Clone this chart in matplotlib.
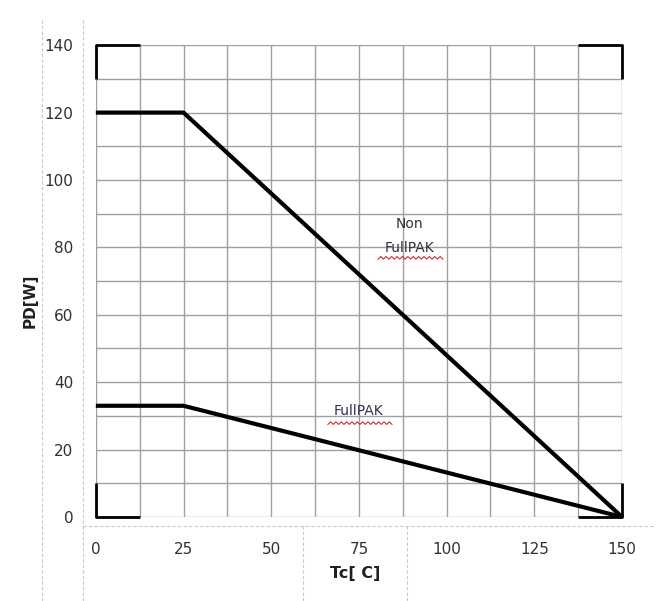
import numpy as np
import matplotlib.pyplot as plt
from matplotlib.lines import Line2D

# derating curves
tc_non = [0, 25, 150]
pd_non = [120, 120, 0]
tc_full = [0, 25, 150]
pd_full = [33, 33, 0]

x_ticks = [0, 25, 50, 75, 100, 125, 150]
y_ticks = [0, 20, 40, 60, 80, 100, 120, 140]


def wavy(fig, x0, x1, y, amp=0.0022, n=12):
    # red spell-check style underline in figure coords
    xs = np.linspace(x0, x1, n * 2 + 1)
    ys = y + amp * np.where(np.arange(len(xs)) % 2 == 0, -1, 1)
    fig.add_artist(Line2D(xs, ys, color='#d03030', lw=0.8, transform=fig.transFigure))


def main():
    fig = plt.figure(figsize=(6.61, 6.01), dpi=100)
    ax = fig.add_axes([0.145, 0.1398, 0.796, 0.785])

    ax.set_xlim(0, 150)
    ax.set_ylim(0, 140)
    ax.set_xticks(np.arange(0, 150.1, 12.5), minor=False)
    ax.set_yticks(np.arange(0, 140.1, 10))
    ax.grid(True, color='#a0a0a0', lw=1.0)
    ax.tick_params(length=0, labelsize=11, labelcolor='#303030')
    ax.set_xticklabels([str(int(v)) if v in x_ticks else '' for v in np.arange(0, 150.1, 12.5)])
    ax.set_yticklabels([str(int(v)) if v in y_ticks else '' for v in np.arange(0, 140.1, 10)])
    ax.tick_params(axis='x', pad=18)
    ax.tick_params(axis='y', pad=16)
    for s in ax.spines.values():
        s.set_visible(False)

    ax.plot(tc_non, pd_non, color='black', lw=3, solid_capstyle='butt', clip_on=False)
    ax.plot(tc_full, pd_full, color='black', lw=3, solid_capstyle='butt', clip_on=False)

    # corner brackets
    kw = dict(color='black', lw=2, clip_on=False, solid_capstyle='butt')
    ax.plot([0, 0, 12.5], [130, 140, 140], **kw)
    ax.plot([137.5, 150, 150], [140, 140, 130], **kw)
    ax.plot([0, 0, 12.5], [10, 0, 0], **kw)
    ax.plot([137.5, 150, 150], [0, 0, 10], **kw)

    ax.text(89.5, 83.5, 'Non\nFullPAK', ha='center', va='center', fontsize=10,
            color='#303040', linespacing=1.9)
    ax.text(75, 31.5, 'FullPAK', ha='center', va='center', fontsize=10, color='#303050')
    wavy(fig, 0.572, 0.670, 0.571)
    wavy(fig, 0.496, 0.593, 0.296)

    fig.text(0.045, 0.5, 'PD[W]', rotation=90, ha='center', va='center',
             fontsize=11, fontweight='bold', color='#202020')
    fig.text(0.537, 0.046, 'Tc[ C]', ha='center', va='center',
             fontsize=11.5, fontweight='bold', color='#202020')

    # dashed table borders from the source document
    dk = dict(color='#c8c8c8', lw=0.8, ls=(0, (3, 2)), transform=fig.transFigure)
    fig.add_artist(Line2D([0.063, 0.063], [0, 0.97], **dk))
    fig.add_artist(Line2D([0.126, 0.126], [0, 0.97], **dk))
    fig.add_artist(Line2D([0.126, 0.99], [0.124, 0.124], **dk))
    fig.add_artist(Line2D([0.458, 0.458], [0, 0.124], **dk))
    fig.add_artist(Line2D([0.616, 0.616], [0, 0.124], **dk))

    fig.savefig('out.png', dpi=100)


if __name__ == "__main__":
    main()
